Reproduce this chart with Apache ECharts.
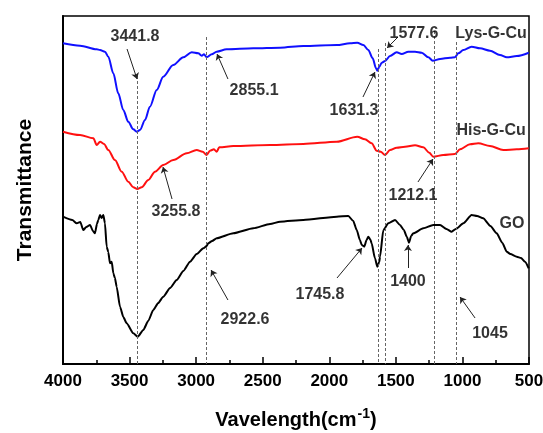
<!DOCTYPE html>
<html>
<head>
<meta charset="utf-8">
<script src="https://cdn.jsdelivr.net/npm/echarts@6/dist/echarts.min.js"></script>
<style>
  html, body { margin: 0; padding: 0; background: #fff; }
  #chart { width: 543px; height: 433px; }
</style>
</head>
<body>
<div id="chart"></div>
<script>
// wavenumbers (cm-1) and transmittance (arbitrary units, offset per curve)
const lysWn = [4000, 3872, 3747, 3722, 3685, 3660, 3622, 3585, 3547, 3510, 3472, 3446, 3422, 3384, 3347, 3296, 3247, 3172, 3096, 3033, 2984, 2958, 2941, 2921, 2883, 2846, 2771, 2571, 2370, 2195, 1944, 1844, 1790, 1744, 1707, 1674, 1649, 1639, 1624, 1606, 1581, 1544, 1494, 1456, 1406, 1356, 1306, 1256, 1223, 1168, 1093, 1056, 1031, 993, 931, 868, 793, 718, 667, 592, 502];
const lysT  = [320.7, 318.3, 314.7, 314, 312.3, 307.3, 290.7, 270.7, 254, 242.3, 234.7, 232.3, 234, 244, 257.3, 274, 287.3, 299, 306.7, 311.7, 310.7, 308.3, 309.7, 306.7, 309.7, 312.3, 314.7, 315.7, 316.3, 318, 319, 320.7, 321.3, 319, 314, 305.7, 295.7, 293.3, 297.3, 301.3, 303, 308, 311.7, 310, 312.3, 312.3, 311.3, 306.7, 303.3, 305, 306.3, 306.7, 310.7, 314, 317.3, 315.7, 313.3, 309, 306.7, 308, 311.3];

const hisWn = [4000, 3872, 3772, 3747, 3722, 3692, 3660, 3610, 3559, 3510, 3472, 3442, 3409, 3359, 3309, 3247, 3172, 3071, 2996, 2951, 2921, 2896, 2866, 2846, 2826, 2721, 2445, 2195, 1944, 1790, 1732, 1682, 1644, 1614, 1581, 1544, 1494, 1431, 1356, 1294, 1249, 1219, 1144, 1056, 1018, 943, 881, 793, 693, 592, 502];
const hisT  = [232.3, 229, 225.7, 219, 222.3, 220, 214, 204, 192.3, 182.3, 176.7, 175, 176.7, 184, 192.3, 199, 204, 210.7, 214, 212.3, 209, 213.3, 214.7, 212.3, 216.7, 218, 219, 220, 222.3, 227.3, 224.7, 220.7, 213.3, 212.3, 209, 214, 216.3, 217.3, 218.7, 216.7, 211.3, 207.3, 209, 210, 214.7, 219.7, 220.7, 218, 214, 214.7, 215.7];

const goWn = [4000, 3930, 3897, 3870, 3848, 3825, 3797, 3775, 3760, 3745, 3735, 3722, 3710, 3697, 3685, 3672, 3660, 3647, 3634, 3622, 3610, 3597, 3572, 3547, 3522, 3472, 3439, 3397, 3360, 3322, 3285, 3247, 3196, 3146, 3096, 3046, 2996, 2946, 2921, 2909, 2880, 2846, 2721, 2571, 2445, 2370, 2195, 1944, 1857, 1820, 1794, 1770, 1756, 1737, 1720, 1707, 1690, 1682, 1657, 1639, 1625, 1619, 1594, 1557, 1506, 1469, 1440, 1418, 1401, 1385, 1369, 1294, 1219, 1168, 1120, 1081, 1050, 993, 931, 890, 844, 790, 743, 700, 667, 640, 592, 560, 530, 502];
const goT  = [147.3, 144, 140.7, 142, 134, 137, 139, 133, 130.7, 140, 144, 149, 146, 149, 140.7, 117.3, 112, 100.7, 102.3, 90.7, 86, 77.3, 57.3, 47, 40.7, 30.7, 27.3, 34, 43, 54, 61, 67.3, 76, 84, 93, 102.3, 110, 115.7, 118, 120.7, 123, 125.7, 130.7, 135.7, 140, 142.3, 144, 147.3, 148, 143, 134, 124, 119, 117.3, 124, 127.3, 124, 120.7, 105.7, 97.3, 102, 107.3, 134, 140.7, 144, 139, 134, 127.3, 121.3, 128, 130.7, 135.7, 139, 139, 135, 132.3, 135, 140.7, 149, 148, 145.7, 138, 130.7, 121, 112.3, 110, 107.3, 106, 102.3, 95.7];

// dashed guide lines: wavenumber and top of line
const guideWn  = [3441.8, 2922.6, 1631.3, 1577.6, 1212.1, 1045];
const guideTop = [288, 327, 315, 321, 333, 322];

// peak labels: text, label position, arrow tail, arrow head
const peakText = ['3441.8', '2855.1', '3255.8', '1631.3', '1577.6', '1212.1', '1745.8', '1400', '1045', '2922.6'];
const peakPos  = [[3459, 327], [2565, 273], [3151, 152], [1814, 253], [1364, 330], [1371, 168], [2070, 69], [1409, 82], [793, 30], [2633, 44]];
const arrowTail = [[3519, 315], [2761, 285], [3181, 165], [1747, 267], [1484, 327], [1334, 182], [1942, 86], [1409, 96], [905, 46], [2761, 64]];
const arrowHead = [[3444, 285], [2843, 310], [3249, 197], [1657, 292], [1566, 316], [1221, 205], [1754, 116], [1409, 119], [1018, 67], [2888, 94]];

// curve names and their label positions
const curveNames = ['Lys-G-Cu', 'His-G-Cu', 'GO'];
const curvePos = [[785, 330], [785, 233], [628, 140]];

const zip = (a, b) => a.map((v, i) => [v, b[i]]);
const font = 'Liberation Sans, Arial, sans-serif';

const chart = echarts.init(document.getElementById('chart'), null, { renderer: 'canvas' });

const guideLines = guideWn.map((w, i) => [{ coord: [w, guideTop[i]] }, { coord: [w, 0] }]);
const arrows = arrowTail.map((t, i) => [{ coord: t }, { coord: arrowHead[i] }]);

const labels = peakText.map((t, i) => ({ name: t, value: peakPos[i] }))
  .concat(curveNames.map((t, i) => ({ name: t, value: curvePos[i] })));

const lineStyleOf = c => ({ color: c, width: 2 });

chart.setOption({
  animation: false,
  grid: {
    left: 63, right: 14, top: 16, bottom: 69, containLabel: false, outerBoundsMode: 'none',
    show: true, borderColor: '#000', borderWidth: 1.5
  },
  xAxis: {
    type: 'value', min: 500, max: 4000, interval: 500, inverse: true,
    name: '{a|Vavelength(cm}{s|-1}{a|)}',
    nameLocation: 'middle', nameGap: 43,
    nameTextStyle: {
      rich: {
        a: { fontSize: 20, fontWeight: 'bold', fontFamily: font, color: '#000' },
        s: { fontSize: 14, fontWeight: 'bold', fontFamily: font, color: '#000', padding: [0, 0, 12, 1] }
      }
    },
    axisLine: { lineStyle: { color: '#000', width: 2 } },
    axisTick: { inside: true, length: 7, lineStyle: { color: '#000', width: 1.5 } },
    minorTick: { show: true, splitNumber: 2, length: 4, lineStyle: { color: '#000', width: 1.5 } },
    axisLabel: { fontSize: 17, fontWeight: 'bold', fontFamily: font, color: '#000', margin: 9, formatter: v => String(v) },
    splitLine: { show: false }
  },
  yAxis: {
    type: 'value', min: 0, max: 348,
    name: 'Transmittance', nameLocation: 'middle', nameGap: 27, nameRotate: 90,
    nameTextStyle: { fontSize: 21, fontWeight: 'bold', fontFamily: font, color: '#000' },
    axisLine: { lineStyle: { color: '#000', width: 2 } },
    axisTick: { show: false }, axisLabel: { show: false }, splitLine: { show: false }
  },
  series: [
    { name: 'Lys-G-Cu', type: 'line', data: zip(lysWn, lysT), showSymbol: false, smooth: 0.3, smoothMonotone: 'x', lineStyle: lineStyleOf('#1010ff'), z: 3 },
    { name: 'His-G-Cu', type: 'line', data: zip(hisWn, hisT), showSymbol: false, smooth: 0.3, smoothMonotone: 'x', lineStyle: lineStyleOf('#ff1010'), z: 3 },
    { name: 'GO', type: 'line', data: zip(goWn, goT), showSymbol: false, smooth: 0.2, smoothMonotone: 'x', lineStyle: lineStyleOf('#000'), z: 3 },
    {
      name: 'guides', type: 'line', data: [], silent: true,
      markLine: {
        silent: true, symbol: ['none', 'none'], label: { show: false },
        lineStyle: { color: '#666', width: 1, type: [3, 2] },
        data: guideLines
      }
    },
    {
      name: 'arrows', type: 'line', data: [], silent: true,
      markLine: {
        silent: true, symbol: ['none', 'arrow'], symbolSize: 6, label: { show: false },
        lineStyle: { color: '#222', width: 1, type: 'solid' },
        data: arrows
      }
    },
    {
      name: 'labels', type: 'scatter', data: labels, symbolSize: 0, silent: true, z: 5,
      label: {
        show: true, position: 'inside', formatter: p => p.name,
        fontSize: 16, fontWeight: 'bold', fontFamily: font, color: '#000'
      }
    }
  ]
});
</script>
</body>
</html>
